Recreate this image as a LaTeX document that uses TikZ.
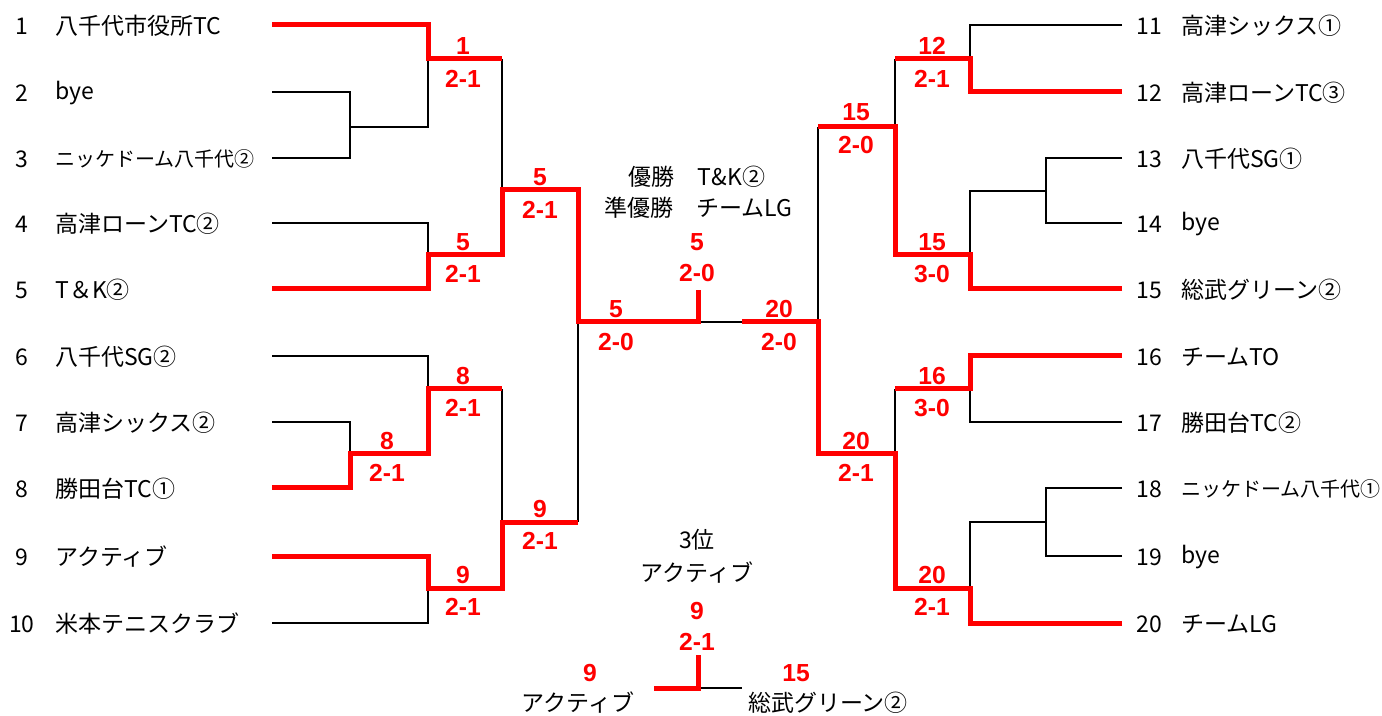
\documentclass[tikz,border=0pt]{standalone}
\usepackage{fontspec}
\setmainfont{Noto Sans CJK JP}
\newfontfamily\scorefont{Liberation Sans}

\begin{document}
\begin{tikzpicture}[x=0.75pt,y=-0.75pt,
    lose/.style={line width=1.5pt,color=black},
    win/.style={line width=3.75pt,color=red},
    team/.style={anchor=west,inner sep=0pt,font=\fontsize{17.25}{20}\selectfont},
    longteam/.style={team,font=\fontsize{15}{17}\selectfont},
    seed/.style={inner sep=0pt,font=\fontsize{17.25}{20}\selectfont},
    caption/.style={inner sep=0pt,font=\fontsize{17.25}{20}\selectfont},
    score/.style={inner sep=0pt,text=red,font=\scorefont\bfseries\fontsize{18.5}{20}\selectfont}]
    \useasboundingbox (0,0) rectangle (1382,716);

    % left block
    \node[seed] (s1) at (22,26) {1};   \node[team] (n1) at (55,26) {八千代市役所TC};
    \node[seed] (s2) at (22,93) {2};   \node[team] (n2) at (55,93) {bye};
    \node[seed] (s3) at (22,159) {3};  \node[longteam] (n3) at (55,159) {ニッケドーム八千代②};
    \node[seed] (s4) at (22,224) {4};  \node[team] (n4) at (55,224) {高津ローンTC②};
    \node[seed] (s5) at (22,290) {5};  \node[team] (n5) at (55,290) {T＆K②};
    \node[seed] (s6) at (22,357) {6};  \node[team] (n6) at (55,357) {八千代SG②};
    \node[seed] (s7) at (22,423) {7};  \node[team] (n7) at (55,423) {高津シックス②};
    \node[seed] (s8) at (22,489) {8};  \node[team] (n8) at (55,489) {勝田台TC①};
    \node[seed] (s9) at (22,557) {9};  \node[team] (n9) at (55,557) {アクティブ};
    \node[seed] (s10) at (22,624) {10}; \node[team] (n10) at (55,624) {米本テニスクラブ};

    \coordinate (L1) at (272,25);  \coordinate (L2) at (272,92);
    \coordinate (L3) at (272,158); \coordinate (L4) at (272,223);
    \coordinate (L5) at (272,289); \coordinate (L6) at (272,356);
    \coordinate (L7) at (272,422); \coordinate (L8) at (272,488);
    \coordinate (L9) at (272,556); \coordinate (L10) at (272,623);

    \coordinate (j23) at (350,127);
    \coordinate (m1) at (428,59);
    \coordinate (m45) at (428,255);
    \coordinate (m5) at (502,190);
    \coordinate (m6) at (428,389);
    \coordinate (m78) at (350,454);
    \coordinate (m910) at (428,588);
    \coordinate (m9) at (502,522);
    \coordinate (sfL) at (578,322);

    % right block
    \node[seed] (s11) at (1149,26) {11};  \node[team] (n11) at (1181,26) {高津シックス①};
    \node[seed] (s12) at (1149,93) {12};  \node[team] (n12) at (1181,93) {高津ローンTC③};
    \node[seed] (s13) at (1149,159) {13}; \node[team] (n13) at (1181,159) {八千代SG①};
    \node[seed] (s14) at (1149,224) {14}; \node[team] (n14) at (1181,224) {bye};
    \node[seed] (s15) at (1149,290) {15}; \node[team] (n15) at (1181,290) {総武グリーン②};
    \node[seed] (s16) at (1149,357) {16}; \node[team] (n16) at (1181,357) {チームTO};
    \node[seed] (s17) at (1149,423) {17}; \node[team] (n17) at (1181,423) {勝田台TC②};
    \node[seed] (s18) at (1149,489) {18}; \node[longteam] (n18) at (1181,489) {ニッケドーム八千代①};
    \node[seed] (s19) at (1149,557) {19}; \node[team] (n19) at (1181,557) {bye};
    \node[seed] (s20) at (1149,624) {20}; \node[team] (n20) at (1181,624) {チームLG};

    \coordinate (R11) at (1122,25);  \coordinate (R12) at (1122,92);
    \coordinate (R13) at (1122,158); \coordinate (R14) at (1122,223);
    \coordinate (R15) at (1122,289); \coordinate (R16) at (1122,356);
    \coordinate (R17) at (1122,422); \coordinate (R18) at (1122,488);
    \coordinate (R19) at (1122,556); \coordinate (R20) at (1122,623);

    \coordinate (m11) at (970,59);
    \coordinate (j1314) at (1046,191);
    \coordinate (m13) at (970,255);
    \coordinate (q15) at (895,127);
    \coordinate (m16) at (970,389);
    \coordinate (j1819) at (1046,522);
    \coordinate (m20) at (970,588);
    \coordinate (q20) at (895,454);
    \coordinate (sfR) at (818,322);

    % final and third place
    \coordinate (finL) at (698,322);
    \coordinate (finR) at (742,322);
    \coordinate (champ) at (698,290);
    \coordinate (th) at (698,688);
    \coordinate (thL) at (654,688);
    \coordinate (thR) at (742,688);
    \coordinate (thTop) at (698,655);

    % losers
    \draw[lose] (L2) -| (j23);
    \draw[lose] (L3) -| (j23);
    \draw[lose] (j23) -| (m1);
    \draw[lose] (L4) -| (m45);
    \draw[lose] (m1 -| m5) -- (m5);
    \draw[lose] (L6) -| (m6);
    \draw[lose] (L7) -| (m78);
    \draw[lose] (L10) -| (m910);
    \draw[lose] (m6 -| m9) -- (m9);
    \draw[lose] (m9 -| sfL) -- (sfL);
    \draw[lose] (finL) -- (finR);
    \draw[lose] (R11) -| (m11);
    \draw[lose] (m11 -| q15) -- (q15);
    \draw[lose] (R13) -| (j1314);
    \draw[lose] (R14) -| (j1314);
    \draw[lose] (j1314) -| (m13);
    \draw[lose] (q15 -| sfR) -- (sfR);
    \draw[lose] (R17) -| (m16);
    \draw[lose] (m16 -| q20) -- (q20);
    \draw[lose] (R18) -| (j1819);
    \draw[lose] (R19) -| (j1819);
    \draw[lose] (j1819) -| (m20);
    \draw[lose] (th) -- (thR);

    % winners
    \draw[win] (L1) -| (m1) -- (m1 -| m5);
    \draw[win] (L5) -| (m45) -| (m5) -| (sfL) -| (champ);
    \draw[win] (L8) -| (m78) -| (m6) -- (m6 -| m9);
    \draw[win] (L9) -| (m910) -| (m9) -- (m9 -| sfL);
    \draw[win] (R12) -| (m11) -- (m11 -| q15);
    \draw[win] (R15) -| (m13) -| (q15) -- (q15 -| sfR);
    \draw[win] (R16) -| (m16) -- (m16 -| q20);
    \draw[win] (R20) -| (m20) -| (q20) -| (sfR) -- (finR);
    \draw[win] (thL) -- (th) -- (thTop);

    % scores
    \node[score] (w1) at (463,46) {1};    \node[score] (r1) at (463,79) {2-1};
    \node[score] (w45) at (463,242) {5};  \node[score] (r45) at (463,274) {2-1};
    \node[score] (w5) at (540,177) {5};   \node[score] (r5) at (540,210) {2-1};
    \node[score] (w6) at (463,376) {8};   \node[score] (r6) at (463,408) {2-1};
    \node[score] (w78) at (387,441) {8};  \node[score] (r78) at (387,473) {2-1};
    \node[score] (w910) at (463,575) {9}; \node[score] (r910) at (463,607) {2-1};
    \node[score] (w9) at (540,509) {9};   \node[score] (r9) at (540,541) {2-1};
    \node[score] (wsfL) at (616,309) {5}; \node[score] (rsfL) at (616,342) {2-0};
    \node[score] (wfin) at (697,242) {5}; \node[score] (rfin) at (697,273) {2-0};
    \node[score] (wsfR) at (779,309) {20}; \node[score] (rsfR) at (779,342) {2-0};
    \node[score] (w11) at (932,46) {12};  \node[score] (r11) at (932,79) {2-1};
    \node[score] (w15) at (856,112) {15}; \node[score] (r15) at (856,145) {2-0};
    \node[score] (w13) at (932,242) {15}; \node[score] (r13) at (932,274) {3-0};
    \node[score] (w16) at (932,376) {16}; \node[score] (r16) at (932,408) {3-0};
    \node[score] (w20) at (856,441) {20}; \node[score] (r20) at (856,473) {2-1};
    \node[score] (wm20) at (932,575) {20}; \node[score] (rm20) at (932,607) {2-1};
    \node[score] (wth) at (697,611) {9};  \node[score] (rth) at (697,642) {2-1};
    \node[score] (thLs) at (590,673) {9};
    \node[score] (thRs) at (796,673) {15};

    % results
    \node[caption] (first) at (697,177) {優勝　T\&K②};
    \node[caption] (second) at (698,208) {準優勝　チームLG};
    \node[caption] (third) at (697,540) {3位};
    \node[caption] (thirdname) at (697,573) {アクティブ};
    \node[caption] (thLn) at (578,703) {アクティブ};
    \node[caption] (thRn) at (828,703) {総武グリーン②};
\end{tikzpicture}
\end{document}
